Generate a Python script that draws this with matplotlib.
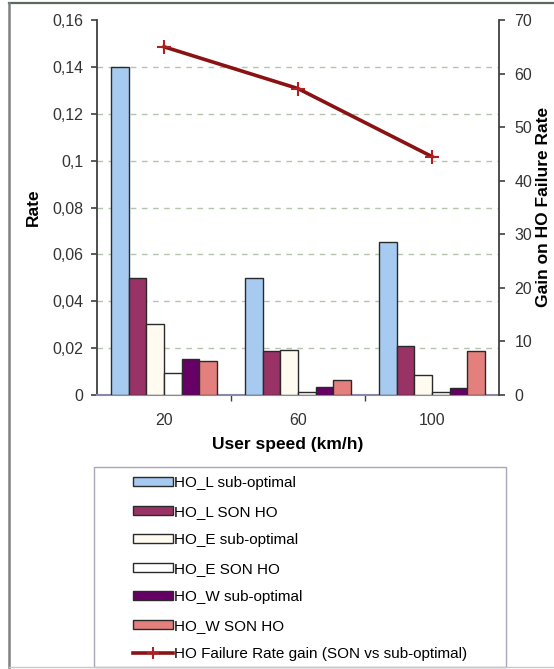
import matplotlib
matplotlib.use("Agg")
import matplotlib.pyplot as plt
from matplotlib.lines import Line2D
from matplotlib.patches import Patch, Rectangle
import numpy as np

plt.rcParams['font.family'] = ['Liberation Sans', 'DejaVu Sans']

speeds = ["20", "60", "100"]
series_names = ["HO_L sub-optimal", "HO_L SON HO", "HO_E sub-optimal",
                "HO_E SON HO", "HO_W sub-optimal", "HO_W SON HO"]
ho_l_sub = [0.140, 0.050, 0.0653]
ho_l_son = [0.050, 0.0188, 0.021]
ho_e_sub = [0.0303, 0.0193, 0.0084]
ho_e_son = [0.0095, 0.0014, 0.0014]
ho_w_sub = [0.0155, 0.0033, 0.0031]
ho_w_son = [0.0144, 0.0063, 0.0186]
gain = [65.0, 57.2, 44.5]
gain_name = "HO Failure Rate gain (SON vs sub-optimal)"

colors = ["#A6CAF0", "#993366", "#FFFBF0", "#FFFFFF", "#660066", "#E3807D"]
line_color = "#8B1212"

W, H = 554, 669
fig = plt.figure(figsize=(W / 100, H / 100), dpi=100)
fig.patch.set_facecolor("white")

def fx(px):
    return px / W

def fy(py):
    return 1 - py / H

ax_l, ax_r, ax_t, ax_b = 97, 499, 20, 395
ax = fig.add_axes([fx(ax_l), fy(ax_b), fx(ax_r - ax_l), (ax_b - ax_t) / H])
ax2 = ax.twinx()

x = np.arange(len(speeds))
w = 106 / 6 / 134
all_series = [ho_l_sub, ho_l_son, ho_e_sub, ho_e_son, ho_w_sub, ho_w_son]
for k, (vals, c) in enumerate(zip(all_series, colors)):
    ax.bar(x + (k - 2.5) * w, vals, width=w, color=c, edgecolor="#2a2a2a",
           linewidth=1.0, zorder=3)

ax.set_xlim(-0.5, 2.5)
ax.set_ylim(0, 0.16)
yt = np.arange(0, 0.1601, 0.02)
ax.set_yticks(yt)
ax.set_yticklabels(["0" if v == 0 else ("%g" % round(v, 2)).replace(".", ",") for v in yt])
for v in yt[1:-1]:
    ax.axhline(v, color="#b4c4ac", lw=1.0, ls=(0, (4, 4)), zorder=1)

ax.set_xticks(x)
ax.set_xticklabels(speeds)
ax.set_xticks([0.5, 1.5], minor=True)
ax.tick_params(axis="x", which="major", length=0, pad=13, labelsize=11.5, labelcolor="#333333")
ax.tick_params(axis="x", which="minor", length=4, width=1, color="#404040", direction="out")
ax.tick_params(axis="y", length=4, width=1.2, color="#404040", pad=6, labelsize=11.5,
               labelcolor="#333333", direction="out")

ax2.plot(x, gain, color=line_color, lw=2.6, marker="+", ms=10, mew=1.5,
         mec="#B02020", zorder=5)
ax2.set_ylim(0, 70)
ax2.set_yticks(np.arange(0, 71, 10))
ax2.tick_params(axis="y", length=4, width=1.2, color="#404040", pad=7, labelsize=11.5,
                labelcolor="#333333", direction="out")

for a in (ax, ax2):
    a.spines["top"].set_visible(False)
ax.spines["right"].set_visible(False)
ax.spines["left"].set_color("#404040")
ax.spines["left"].set_linewidth(1.3)
ax.spines["bottom"].set_color("#8888a8")
ax.spines["bottom"].set_linewidth(1.5)
ax2.spines["left"].set_visible(False)
ax2.spines["bottom"].set_visible(False)
ax2.spines["right"].set_color("#404040")
ax2.spines["right"].set_linewidth(1.3)
ax.set_zorder(1)
ax2.set_zorder(2)
ax2.patch.set_visible(False)

fig.text(fx(33), fy(207), "Rate", rotation=90, ha="center", va="center",
         fontsize=12.5, fontweight="bold")
fig.text(fx(544), fy(207), "Gain on HO Failure Rate", rotation=90, ha="center",
         va="center", fontsize=12.5, fontweight="bold")
fig.text(fx(288), fy(445), "User speed (km/h)", ha="center", va="center",
         fontsize=12.5, fontweight="bold")

# outer frame
fig.add_artist(Line2D([fx(9), fx(554)], [fy(3), fy(3)], color="#5a6a5a", lw=1.6))
fig.add_artist(Line2D([fx(9), fx(9)], [fy(3), fy(669)], color="#808080", lw=1.8))
fig.add_artist(Line2D([fx(9), fx(554)], [fy(667), fy(667)], color="#c8c8c8", lw=1.0))

# legend box
fig.add_artist(Rectangle((fx(94), fy(667)), fx(506 - 94), (667 - 467) / H,
                         facecolor="none", edgecolor="#a8a8b8", lw=1.0))
handles = [Patch(facecolor=c, edgecolor="#2a2a2a", linewidth=1.0) for c in colors]
handles.append(Line2D([], [], color=line_color, lw=2.6, marker="+", ms=8, mew=1.5,
                      mec="#B02020"))
labels = series_names + [gain_name]
fig.legend(handles, labels, loc="upper left", bbox_to_anchor=(fx(127), fy(470)),
           frameon=False, fontsize=11, handlelength=2.6, handleheight=0.5,
           handletextpad=0.1, labelspacing=0.95, borderaxespad=0)

fig.savefig("out.png", dpi=100, facecolor="white")
